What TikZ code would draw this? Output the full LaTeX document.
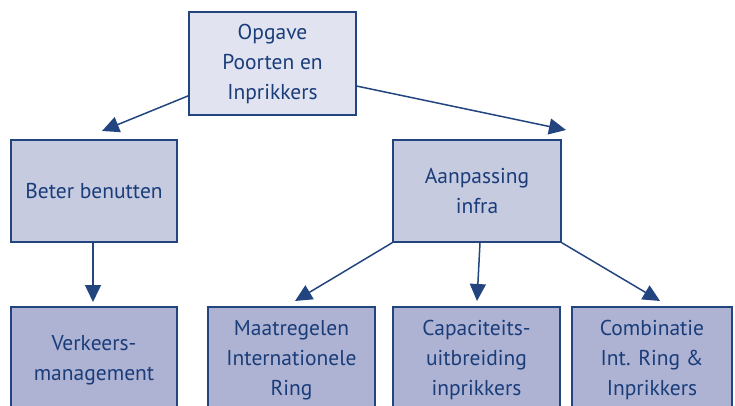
\documentclass[tikz,border=0pt]{standalone}
\usepackage{fontspec}
\setmainfont{PT Sans}
\usetikzlibrary{arrows.meta,calc}
\definecolor{txtblue}{HTML}{1A3D7A}
\definecolor{edgeblue}{HTML}{23457F}
\definecolor{fillA}{HTML}{E1E4F0}
\definecolor{fillB}{HTML}{C6CBE0}
\definecolor{fillC}{HTML}{AEB3D3}
\tikzset{
  box/.style={draw=edgeblue, line width=1.3pt, rectangle, align=center,
    text=txtblue, font=\fontsize{21.5}{30}\selectfont, inner sep=0pt},
  conn/.style={draw=edgeblue, line width=1.5pt, -{Triangle[length=17pt,width=16pt]}},
}
\begin{document}
\begin{tikzpicture}[x=1pt,y=-1pt]
\useasboundingbox (0,0) rectangle (735,406);
\clip (0,0) rectangle (735,406);
\node[box, fill=fillA, minimum width=167pt, minimum height=103pt] (top) at (272.5,63.5) {Opgave\\Poorten en\\Inprikkers};
\node[box, fill=fillB, minimum width=166pt, minimum height=102pt] (beter) at (94,191) {Beter benutten};
\node[box, fill=fillB, minimum width=168pt, minimum height=102pt] (aanp) at (477,191) {Aanpassing\\infra};
\node[box, fill=fillC, minimum width=166pt, minimum height=106pt] (verk) at (94,360) {Verkeers-\\management};
\node[box, fill=fillC, minimum width=167pt, minimum height=106pt] (maat) at (291.5,360) {Maatregelen\\Internationele\\Ring};
\node[box, fill=fillC, minimum width=167pt, minimum height=106pt] (capa) at (476.5,360) {Capaciteits-\\uitbreiding\\inprikkers};
\node[box, fill=fillC, minimum width=160pt, minimum height=106pt] (comb) at (652,360) {Combinatie\\Int. Ring \&\\Inprikkers};
\coordinate (t1) at (102,131);
\coordinate (t2) at (566,130);
\coordinate (t3) at (93,302);
\coordinate (t4) at (295,301);
\coordinate (t5) at (477,301);
\coordinate (t6) at (660,301);
\draw[conn] (top.201.5) -- (t1);
\draw[conn] (top.345.6) -- (t2);
\draw[conn] (beter.south) ++(-1,0) -- (t3);
\draw[conn] (aanp.south west) -- (t4);
\draw[conn] ($(aanp.south)+(3,0)$) -- (t5);
\draw[conn] (aanp.south east) -- (t6);
\end{tikzpicture}
\end{document}
